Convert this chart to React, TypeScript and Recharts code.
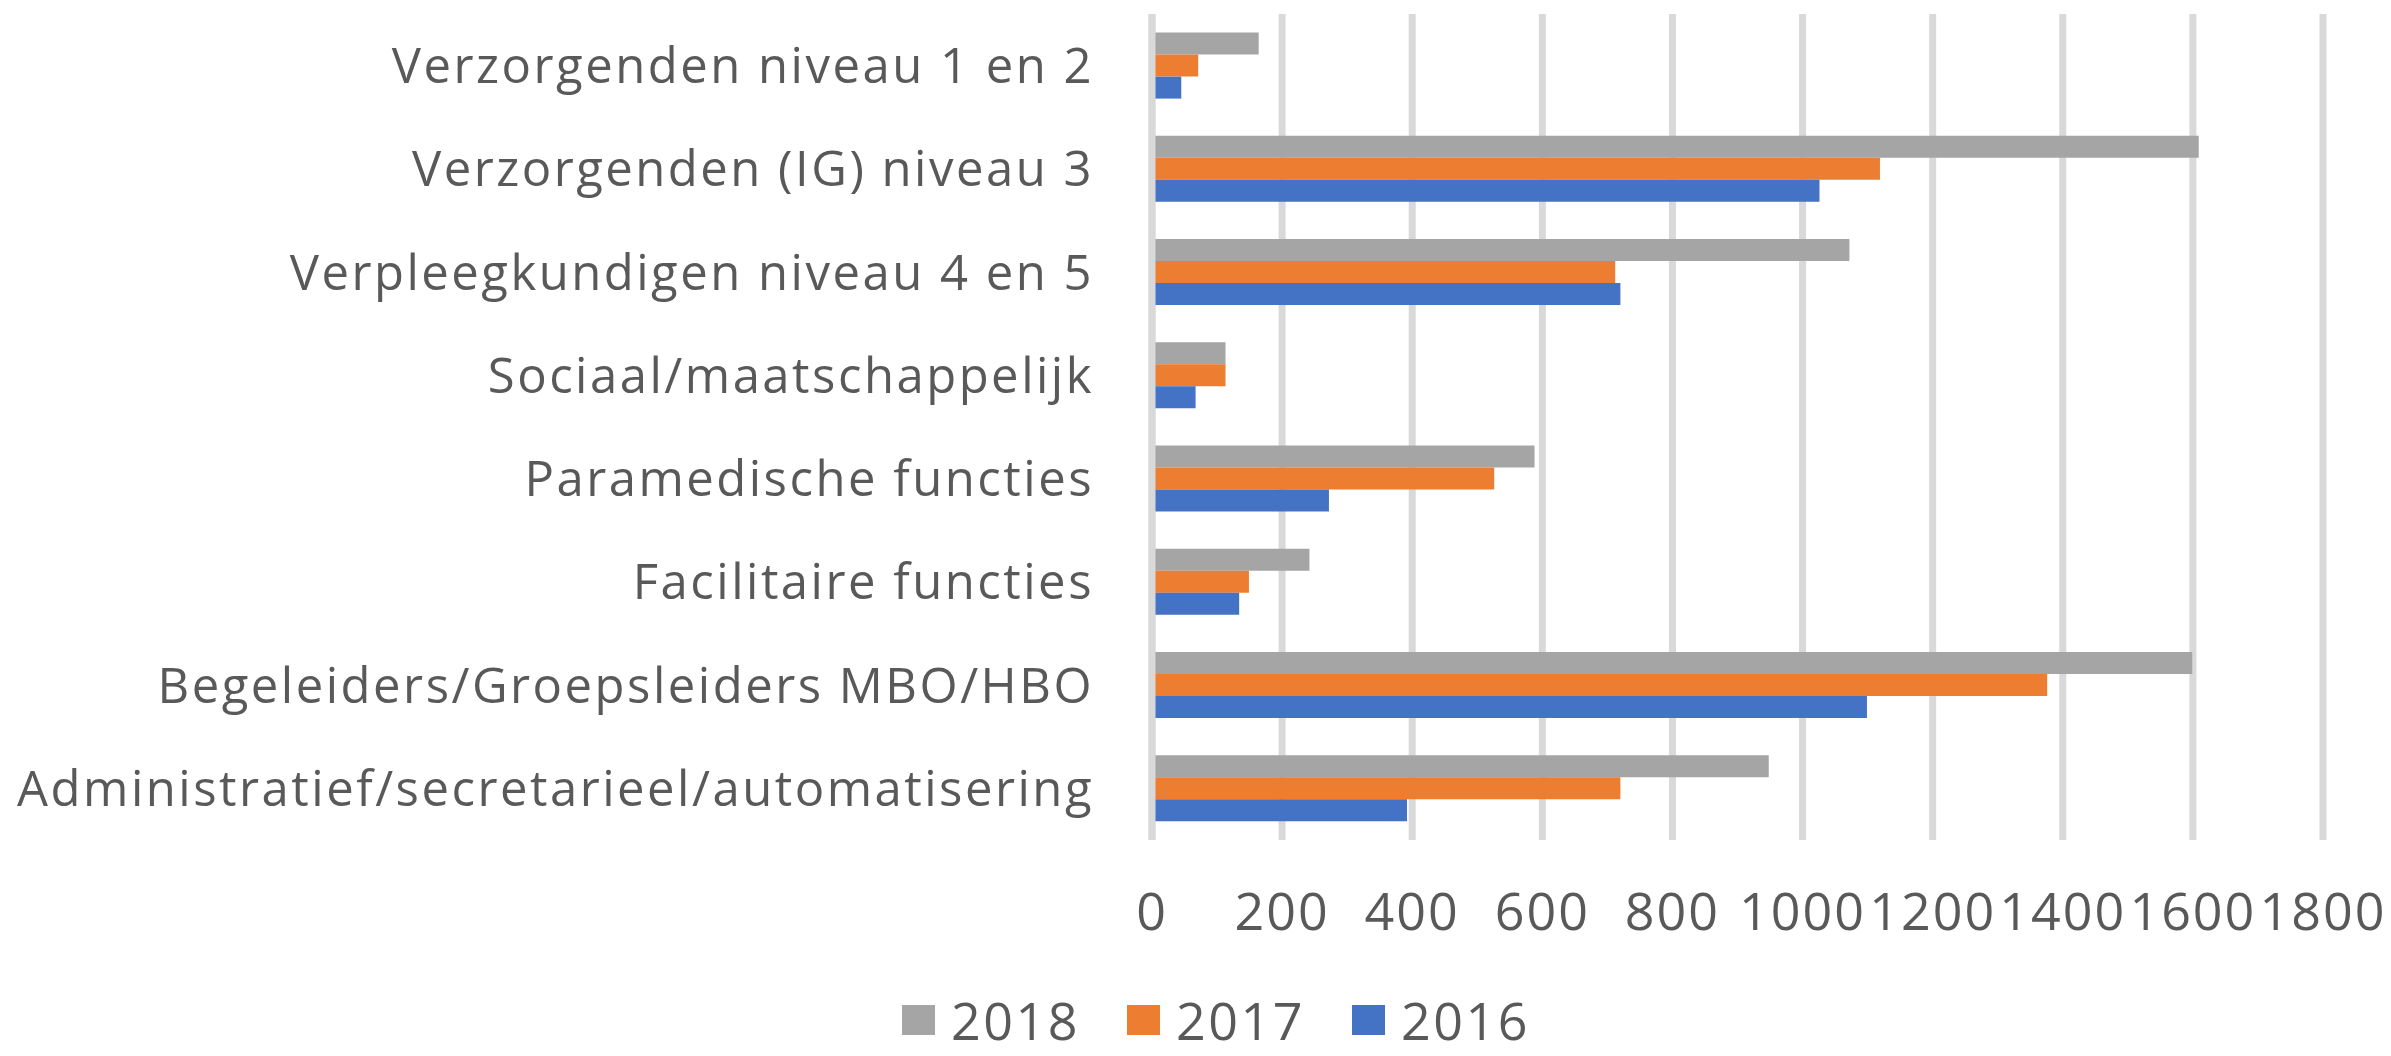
import { BarChart, Bar, XAxis, YAxis, CartesianGrid, Legend } from "recharts";

const categories = [
  "Verzorgenden niveau 1 en 2",
  "Verzorgenden (IG) niveau 3",
  "Verpleegkundigen niveau 4 en 5",
  "Sociaal/maatschappelijk",
  "Paramedische functies",
  "Facilitaire functies",
  "Begeleiders/Groepsleiders MBO/HBO",
  "Administratief/secretarieel/automatisering",
];

const values2018 = [164, 1609, 1072, 113, 588, 242, 1599, 948];
const values2017 = [71, 1119, 712, 113, 526, 149, 1376, 720];
const values2016 = [45, 1026, 720, 67, 272, 134, 1099, 392];

const xTicks = [0, 200, 400, 600, 800, 1000, 1200, 1400, 1600, 1800];

// top-to-bottom order inside each group, same as the legend
const SERIES = [
  { key: "y2018", name: "2018", color: "#A5A5A5" },
  { key: "y2017", name: "2017", color: "#ED7D31" },
  { key: "y2016", name: "2016", color: "#4472C4" },
];

const FONT = '"Open Sans", "Liberation Sans", Arial, sans-serif';
const TEXT = "#595959";

const data = categories.map((name, i) => ({
  name,
  y2018: values2018[i],
  y2017: values2017[i],
  y2016: values2016[i],
}));

function CategoryTick({ x, y, payload }: any) {
  return (
    <text
      x={x}
      y={y}
      dy="0.355em"
      textAnchor="end"
      fill={TEXT}
      fontSize={49}
      fontFamily={FONT}
      letterSpacing={2.5}
    >
      {payload.value}
    </text>
  );
}

function ValueTick({ x, y, payload }: any) {
  return (
    <text
      x={x}
      y={y}
      dy="0.71em"
      textAnchor="middle"
      fill={TEXT}
      fontSize={52}
      fontFamily={FONT}
      letterSpacing={2}
    >
      {payload.value}
    </text>
  );
}

function LegendContent({ payload }: any) {
  const items = SERIES.map((s) => (payload || []).find((p: any) => p.value === s.name)).filter(Boolean);
  return (
    <div
      style={{
        display: "flex",
        justifyContent: "center",
        gap: 47,
        paddingTop: 44,
        paddingLeft: 41,
        height: 106,
        boxSizing: "border-box",
        fontFamily: FONT,
      }}
    >
      {items.map((entry: any) => (
        <div key={entry.value} style={{ display: "flex", alignItems: "center", height: 52 }}>
          <span
            style={{ width: 33, height: 30, background: entry.color, marginRight: 16, display: "inline-block" }}
          />
          <span
            style={{
              display: "inline-block",
              height: 52,
              fontSize: 52,
              lineHeight: "52px",
              letterSpacing: 2.5,
              color: TEXT,
            }}
          >
            {entry.value}
          </span>
        </div>
      ))}
    </div>
  );
}

export default function App() {
  return (
    <div style={{ position: "absolute", left: 0, top: 0, width: 2391, height: 1056, background: "#fff" }}>
      <BarChart
        width={2391}
        height={1056}
        data={data}
        layout="vertical"
        margin={{ top: 14, right: 68, bottom: 0, left: 0 }}
        barCategoryGap="18%"
        barGap={0}
      >
        <CartesianGrid horizontal={false} stroke="#D9D9D9" strokeWidth={7} />
        <XAxis
          type="number"
          domain={[0, 1800]}
          ticks={xTicks}
          axisLine={false}
          tickLine={false}
          tickSize={0}
          tickMargin={53}
          height={110}
          tick={<ValueTick />}
          interval={0}
        />
        <YAxis
          type="category"
          dataKey="name"
          width={1152}
          axisLine={{ stroke: "#D9D9D9", strokeWidth: 7 }}
          tickLine={false}
          tickSize={0}
          tickMargin={58}
          tick={<CategoryTick />}
          interval={0}
        />
        <Legend
          verticalAlign="bottom"
          align="center"
          wrapperStyle={{ left: 0, width: 2391, height: 106 }}
          content={<LegendContent />}
        />
        {SERIES.map((s) => (
          <Bar key={s.key} dataKey={s.key} name={s.name} fill={s.color} isAnimationActive={false} />
        ))}
      </BarChart>
    </div>
  );
}
